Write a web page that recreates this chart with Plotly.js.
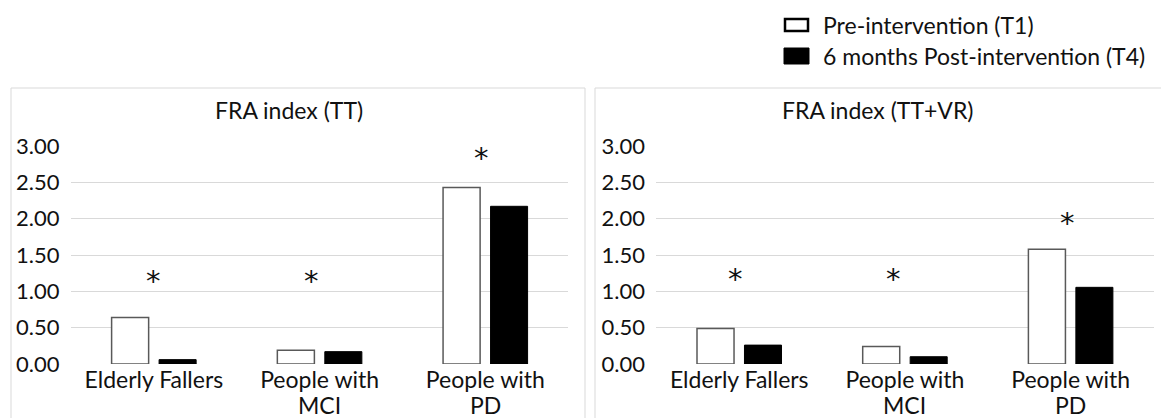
<!DOCTYPE html>
<html>
<head>
<meta charset="utf-8">
<script src="https://cdn.plot.ly/plotly-3.0.1.min.js"></script>
<style>
  html, body { margin: 0; padding: 0; background: #fff; }
  #chart { width: 1161px; height: 418px; }
</style>
</head>
<body>
<div id="chart"></div>
<script>
// ---- data ----
const categories = ['Elderly Fallers', 'People with MCI', 'People with PD'];
const labelLine1 = ['Elderly Fallers', 'People with', 'People with'];
const labelLine2 = ['', 'MCI', 'PD'];
const seriesNames = ['Pre-intervention (T1)', '6 months Post-intervention (T4)'];
const panelTitles = ['FRA index (TT)', 'FRA index (TT+VR)'];
const ttPre = [0.64, 0.19, 2.43];
const ttPost = [0.06, 0.17, 2.17];
const vrPre = [0.49, 0.24, 1.58];
const vrPost = [0.26, 0.10, 1.055];
const ttStar = [1.24, 1.24, 2.93];
const vrStar = [1.26, 1.26, 2.03];
const yTickVals = [0, 0.5, 1, 1.5, 2, 2.5, 3];

// ---- layout helpers (pixels -> paper) ----
const W = 1161, H = 418;
const px = x => x / W;
const py = y => (H - y) / H;
const FONT = 'Lato, "Open Sans", sans-serif';
const TXT = '#111111';
const GRID = '#d9d9d9';

const preStyle = { color: '#ffffff', line: { color: '#595959', width: 1.5 } };
const postStyle = { color: '#000000', line: { color: '#000000', width: 1 } };

const traces = [
  { type: 'bar', name: seriesNames[0], x: categories, y: ttPre, marker: preStyle, xaxis: 'x', yaxis: 'y', hoverinfo: 'y' },
  { type: 'bar', name: seriesNames[1], x: categories, y: ttPost, marker: postStyle, xaxis: 'x', yaxis: 'y', hoverinfo: 'y' },
  { type: 'bar', name: seriesNames[0], x: categories, y: vrPre, marker: preStyle, xaxis: 'x2', yaxis: 'y2', hoverinfo: 'y' },
  { type: 'bar', name: seriesNames[1], x: categories, y: vrPost, marker: postStyle, xaxis: 'x2', yaxis: 'y2', hoverinfo: 'y' }
];

function xAxis(domain, anchor) {
  return {
    domain: domain, anchor: anchor, type: 'category',
    tickmode: 'array', tickvals: categories, ticktext: labelLine1,
    tickfont: { family: FONT, size: 23, color: TXT },
    showgrid: false, zeroline: false, showline: false,
    ticks: '', fixedrange: true
  };
}
function yAxis(domain, anchor) {
  return {
    domain: domain, anchor: anchor, range: [0, 3],
    tickmode: 'array', tickvals: yTickVals,
    tickformat: '.2f',
    tickfont: { family: FONT, size: 22, color: TXT },
    showgrid: true, gridcolor: GRID, gridwidth: 1,
    zeroline: false, showline: false,
    ticks: 'outside', ticklen: 6, tickcolor: 'rgba(0,0,0,0)',
    fixedrange: true
  };
}

const annotations = [];
// panel titles
[[289, 110], [877, 110]].forEach((p, i) => {
  annotations.push({
    xref: 'paper', yref: 'paper', x: px(p[0]), y: py(p[1]),
    xanchor: 'center', yanchor: 'middle', showarrow: false,
    text: panelTitles[i], font: { family: FONT, size: 23, color: TXT }
  });
});
// second lines of category labels
['x', 'x2'].forEach(ax => {
  categories.forEach((c, i) => {
    if (!labelLine2[i]) return;
    annotations.push({
      xref: ax, yref: 'paper', x: c, y: py(405),
      xanchor: 'center', yanchor: 'middle', showarrow: false,
      text: labelLine2[i], font: { family: FONT, size: 23, color: TXT }
    });
  });
});
// significance asterisks
const starShiftTT = [0, -8, -4];
const starShiftVR = [-4, -11, -3];
const STAR_FONT = { family: '"DejaVu Sans", sans-serif', size: 29, color: TXT };
categories.forEach((c, i) => {
  annotations.push({ xref: 'x', yref: 'y', x: c, y: ttStar[i], xshift: starShiftTT[i], yshift: -7,
    showarrow: false, text: '*', font: STAR_FONT });
  annotations.push({ xref: 'x2', yref: 'y2', x: c, y: vrStar[i], xshift: starShiftVR[i], yshift: -7,
    showarrow: false, text: '*', font: STAR_FONT });
});
// legend labels (manual legend)
[[25, 0], [56, 1]].forEach(p => {
  annotations.push({
    xref: 'paper', yref: 'paper', x: px(821), y: py(p[0]),
    xanchor: 'left', yanchor: 'middle', showarrow: false,
    text: seriesNames[p[1]], font: { family: FONT, size: 23, color: TXT }
  });
});

const shapes = [
  { type: 'rect', xref: 'paper', yref: 'paper', x0: px(11), x1: px(585), y0: py(430), y1: py(88),
    line: { color: GRID, width: 1 }, fillcolor: 'rgba(0,0,0,0)', layer: 'below' },
  { type: 'rect', xref: 'paper', yref: 'paper', x0: px(595), x1: px(1175), y0: py(430), y1: py(88),
    line: { color: GRID, width: 1 }, fillcolor: 'rgba(0,0,0,0)', layer: 'below' },
  // legend swatches
  { type: 'rect', xref: 'paper', yref: 'paper', x0: px(785), x1: px(808), y0: py(31), y1: py(19),
    line: { color: '#000000', width: 2.5 }, fillcolor: '#ffffff' },
  { type: 'rect', xref: 'paper', yref: 'paper', x0: px(784), x1: px(809), y0: py(64), y1: py(48),
    line: { color: '#000000', width: 1 }, fillcolor: '#000000' }
];

const layout = {
  width: W, height: H,
  margin: { l: 0, r: 0, t: 0, b: 0 },
  paper_bgcolor: '#ffffff', plot_bgcolor: 'rgba(0,0,0,0)',
  font: { family: FONT, color: TXT },
  barmode: 'group', bargap: 0.427, bargroupgap: 0.22,
  xaxis: xAxis([px(71), px(568.2)], 'y'),
  yaxis: yAxis([py(364), py(146)], 'x'),
  xaxis2: xAxis([px(656.4), px(1153.5)], 'y2'),
  yaxis2: yAxis([py(364), py(146)], 'x2'),
  showlegend: false,
  annotations: annotations,
  shapes: shapes
};

Plotly.newPlot('chart', traces, layout, { displayModeBar: false, staticPlot: true });
</script>
</body>
</html>
